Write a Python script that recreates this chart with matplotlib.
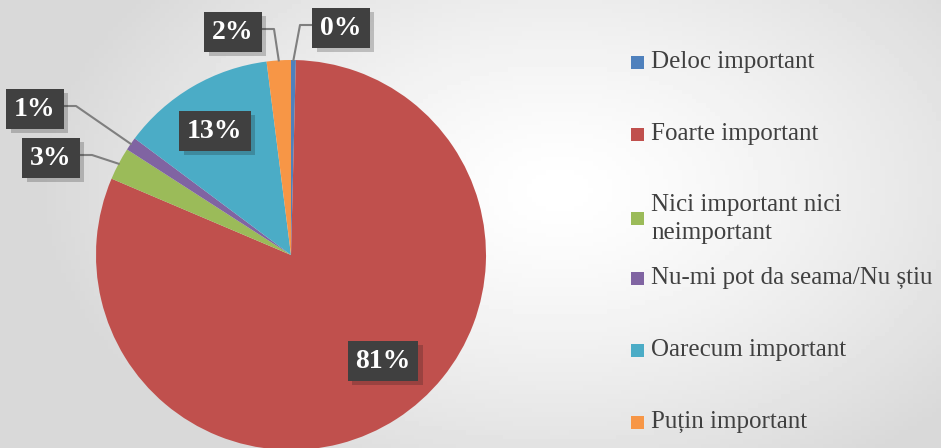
import numpy as np
import matplotlib
matplotlib.use('Agg')
import matplotlib.pyplot as plt
from matplotlib.patches import Rectangle
import matplotlib.patheffects as pe

# data
categories = ['Deloc important', 'Foarte important', 'Nici important nici\nneimportant',
              'Nu-mi pot da seama/Nu știu', 'Oarecum important', 'Puțin important']
values = [0.4, 81.0, 2.7, 1.1, 12.8, 2.0]
colors = ['#4f81bd', '#c0504d', '#9bbb59', '#8064a2', '#4bacc6', '#f79646']

# label box centres (pixels, y down) - layout only
label_pos = [(341, 27), (383, 360), (51, 157), (35, 108), (215, 130), (233, 31)]
outside = [True, False, True, True, False, True]

W, H = 941, 448
fig = plt.figure(figsize=(W / 100, H / 100), dpi=100)
ax = fig.add_axes([0, 0, 1, 1])

# radial gradient background
gx, gy = np.meshgrid(np.linspace(0, W, 200), np.linspace(0, H, 100))
d = np.sqrt(((gx - 560) / 520) ** 2 + ((gy - (H - 190)) / 330) ** 2)
shade = 1 - 0.15 * np.clip(d, 0, 1) ** 1.3
ax.imshow(shade, extent=(0, W, 0, H), origin='lower', cmap='gray', vmin=0, vmax=1,
          zorder=0, aspect='auto')

cx, cy, r = 291, H - 255, 195
wedges, _ = ax.pie(values, colors=colors, startangle=90, counterclock=False,
                   center=(cx, cy), radius=r, frame=True,
                   wedgeprops=dict(linewidth=0))
for w in wedges:
    w.set_zorder(2)
ax.set_xlim(0, W)
ax.set_ylim(0, H)
ax.set_aspect('equal')
ax.axis('off')

for i, w in enumerate(wedges):
    txt = f'{round(values[i]):.0f}%'
    lx, ly = label_pos[i]
    ly = H - ly
    t = ax.text(lx, ly - 1, txt, ha='center', va='center', color='white', fontsize=20,
                fontweight='bold', family='Liberation Serif', zorder=5,
                bbox=dict(boxstyle='square,pad=0.28', facecolor='#404040',
                          edgecolor='none', linewidth=0))
    t.get_bbox_patch().set_path_effects([pe.SimplePatchShadow(offset=(3, -3), alpha=0.22),
                                         pe.Normal()])
    if outside[i]:
        ang = np.deg2rad((w.theta1 + w.theta2) / 2)
        px, py = cx + r * np.cos(ang), cy + r * np.sin(ang)
        half = 29
        if lx < px:
            bx = lx + half
            ex = bx + 12
        else:
            bx = lx - half
            ex = bx - 12
        ax.plot([bx, ex, px], [ly + 2, ly + 2, py], color='#7f7f7f', lw=1.5, zorder=3)

# legend
leg_y = [62, 134, 219, 278, 350, 422]
for i, lab in enumerate(categories):
    y = H - leg_y[i]
    ax.add_patch(Rectangle((631, y - 6.5), 13, 13, facecolor=colors[i], edgecolor='none', zorder=4))
    ax.text(651, y, lab, ha='left', va='center', fontsize=18, color='#404040',
            family='Liberation Serif', linespacing=1.3, zorder=4)

fig.savefig('out.png', dpi=100)
